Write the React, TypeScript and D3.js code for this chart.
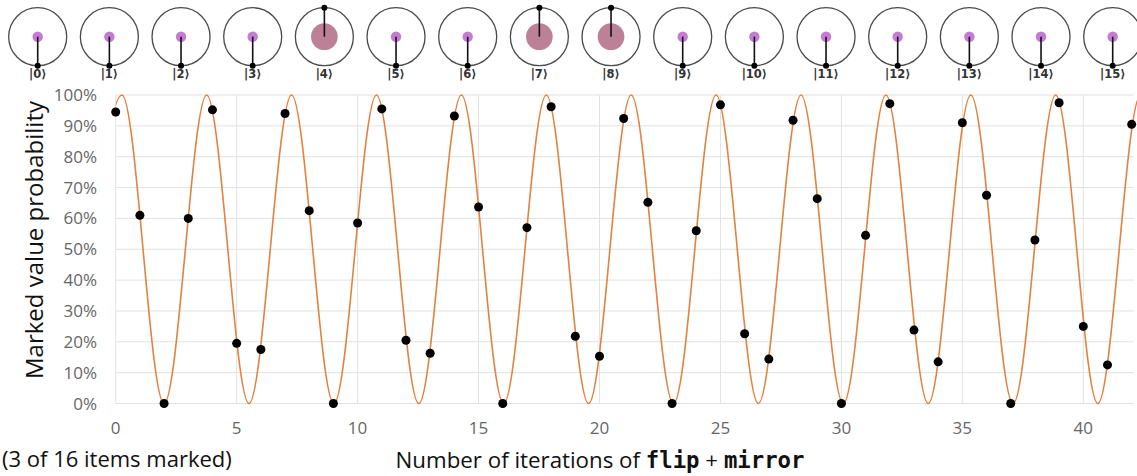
import React from 'react';
import * as d3 from 'd3';

const iterations = [
  0, 1, 2, 3, 4, 5, 6, 7, 8, 9, 10, 11, 12, 13, 14, 15, 16, 17, 18, 19, 20,
  21, 22, 23, 24, 25, 26, 27, 28, 29, 30, 31, 32, 33, 34, 35, 36, 37, 38, 39, 40, 41, 42,
];
const probabilities = [
  0.945, 0.61, 0.0, 0.6, 0.952, 0.195, 0.175, 0.94, 0.625, 0.0, 0.585,
  0.955, 0.205, 0.163, 0.932, 0.637, 0.0, 0.57, 0.962, 0.218, 0.153,
  0.924, 0.652, 0.0, 0.56, 0.968, 0.226, 0.144, 0.918, 0.664, 0.0,
  0.545, 0.972, 0.238, 0.135, 0.91, 0.675, 0.0, 0.53, 0.975, 0.25, 0.125, 0.905,
];

// Positions (iterations) of the orange curve's peaks (100%) and troughs (0%)
const curvePeaks = [0.26, 3.76, 7.27, 10.78, 14.29, 17.8, 21.31, 24.82, 28.33, 31.84, 35.35, 38.86, 42.37];
const curveTroughs = [-1.5, 2.0, 5.51, 9.02, 12.53, 16.04, 19.55, 23.06, 26.57, 30.08, 33.59, 37.1, 40.6, 44.1];

const yTicks = [0, 0.1, 0.2, 0.3, 0.4, 0.5, 0.6, 0.7, 0.8, 0.9, 1.0];
const xTicks = [0, 5, 10, 15, 20, 25, 30, 35, 40];

// Circle-notation state of the 16 items
const itemLabels = ['0', '1', '2', '3', '4', '5', '6', '7', '8', '9', '10', '11', '12', '13', '14', '15'];
const itemMagnitude = [0.18, 0.18, 0.18, 0.18, 0.46, 0.18, 0.18, 0.46, 0.46, 0.18, 0.18, 0.18, 0.18, 0.18, 0.18, 0.18];
const itemPhaseDeg = [180, 180, 180, 180, 0, 180, 180, 0, 0, 180, 180, 180, 180, 180, 180, 180];
const itemMarked = [false, false, false, false, true, false, false, true, true, false, false, false, false, false, false, false];

const W = 1137;
const H = 476;
const FONT = "'Open Sans', 'Noto Sans', 'DejaVu Sans', sans-serif";

export default function App() {
  const x = d3.scaleLinear().domain([0, 40]).range([115.7, 1083.3]);
  const y = d3.scaleLinear().domain([0, 1]).range([403.5, 95]);
  const plotRight = 1134;

  const curvePts: [number, number][] = [
    ...curvePeaks.map((p) => [p, 1] as [number, number]),
    ...curveTroughs.map((t) => [t, 0] as [number, number]),
  ].sort((a, b) => a[0] - b[0]);
  const line = d3
    .line<[number, number]>()
    .x((d) => x(d[0]))
    .y((d) => y(d[1]))
    .curve(d3.curveMonotoneX);

  const cx = d3.scaleLinear().domain([0, 15]).range([37.7, 1112.7]);
  const cy = 36.7;
  const R = 29;
  const rMag = d3.scaleLinear().domain([0, 1]).range([0, R]);

  return (
    <svg
      width={W}
      height={H}
      style={{ position: 'fixed', left: 0, top: 0, background: '#fff' }}
      fontFamily={FONT}
    >
      <defs>
        <clipPath id="plotClip">
          <rect x={x(0)} y={0} width={W - x(0)} height={H} />
        </clipPath>
      </defs>

      {/* circle notation */}
      {itemLabels.map((lab, i) => {
        const px = cx(i);
        const ang = (itemPhaseDeg[i] * Math.PI) / 180;
        const ex = px + R * Math.sin(ang);
        const ey = cy - R * Math.cos(ang);
        return (
          <g key={lab}>
            <circle cx={px} cy={cy} r={R} fill="none" stroke="#4a4a4a" strokeWidth={1.3} />
            <circle
              cx={px}
              cy={cy}
              r={rMag(itemMagnitude[i])}
              fill={itemMarked[i] ? '#bc8196' : '#c57ad6'}
            />
            <line x1={px} y1={cy} x2={ex} y2={ey} stroke="#111" strokeWidth={1.6} />
            <circle cx={ex} cy={ey} r={3} fill="#000" />
            <text
              x={px}
              y={77.5}
              textAnchor="middle"
              fontSize={11.5}
              fontWeight="bold"
              fill="#333"
              fontFamily="'DejaVu Sans', sans-serif"
            >
              {'|' + lab + '\u27E9'}
            </text>
          </g>
        );
      })}

      {/* grid */}
      {yTicks.map((t) => (
        <line key={'gy' + t} x1={x(0)} x2={plotRight} y1={y(t)} y2={y(t)} stroke="#e2e2e2" strokeWidth={1} />
      ))}
      {xTicks.map((t) => (
        <line key={'gx' + t} x1={x(t)} x2={x(t)} y1={y(0)} y2={y(1)} stroke="#e2e2e2" strokeWidth={1} />
      ))}

      {/* tick labels */}
      {yTicks.map((t) => (
        <text key={'ty' + t} x={97} y={y(t) + 6} textAnchor="end" fontSize={17} fill="#666">
          {d3.format('.0%')(t)}
        </text>
      ))}
      {xTicks.map((t) => (
        <text key={'tx' + t} x={x(t)} y={434} textAnchor="middle" fontSize={17} fill="#666">
          {t}
        </text>
      ))}

      {/* curve */}
      <path
        d={line(curvePts) || ''}
        fill="none"
        stroke="#e3823f"
        strokeWidth={1.6}
        clipPath="url(#plotClip)"
      />

      {/* points */}
      {iterations.map((k, i) => (
        <circle key={'p' + k} cx={x(k)} cy={y(probabilities[i])} r={4.5} fill="#000" />
      ))}

      {/* axis titles */}
      <text
        transform={`translate(43, 240) rotate(-90)`}
        textAnchor="middle"
        fontSize={24}
        fill="#111"
      >
        Marked value probability
      </text>
      <text x={600} y={468} textAnchor="middle" fontSize={22.3} fill="#111">
        Number of iterations of{' '}
        <tspan fontFamily="'DejaVu Sans Mono', monospace" fontWeight="bold">flip</tspan>
        {' + '}
        <tspan fontFamily="'DejaVu Sans Mono', monospace" fontWeight="bold">mirror</tspan>
      </text>
      <text x={2} y={467} fontSize={22} fill="#111">
        (3 of 16 items marked)
      </text>
    </svg>
  );
}
